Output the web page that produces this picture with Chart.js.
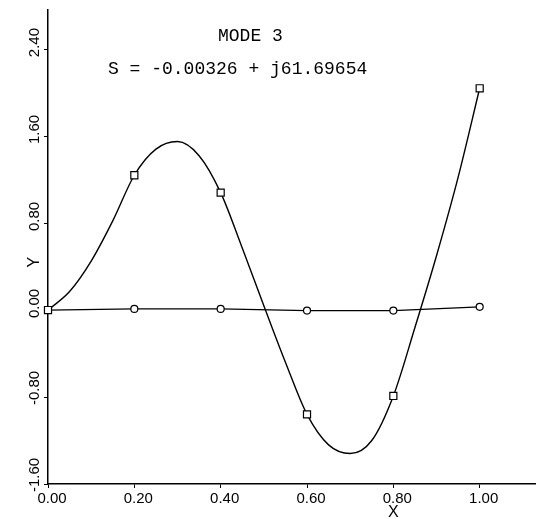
<!DOCTYPE html>
<html>
<head>
<meta charset="utf-8">
<script src="https://cdn.jsdelivr.net/npm/chart.js@4.4.1/dist/chart.umd.min.js"></script>
<style>
  body { margin: 0; background: #fff; }
  #wrap { width: 542px; height: 519px; }
</style>
</head>
<body>
<div id="wrap"><canvas id="grafico" width="542" height="519"></canvas></div>
<script>
// pontos nodais (quadrados = modo, circulos = parte imaginaria)
const xNos = [0, 0.2, 0.4, 0.6, 0.8, 1.0];
const yQuadrados = [0, 1.24, 1.08, -0.96, -0.79, 2.04];
const yCirculos = [0, 0.01, 0.01, -0.005, -0.005, 0.03];

// curva continua
const xCurva = [0, 0.05, 0.1, 0.15, 0.2, 0.25, 0.3, 0.35, 0.4, 0.45, 0.5,
                0.55, 0.6, 0.65, 0.7, 0.75, 0.8, 0.85, 0.9, 0.95, 1.0];
const yCurva = [0, 0.17, 0.45, 0.82, 1.24, 1.48, 1.55, 1.42, 1.08, 0.57, 0.04,
                -0.48, -0.96, -1.24, -1.32, -1.2, -0.79, -0.16, 0.5, 1.22, 2.04];

const xTicks = [0, 0.2, 0.4, 0.6, 0.8, 1.0];
const xTickLabels = ['0.00', '0.20', '0.40', '0.60', '0.80', '1.00'];
const yTicks = [-1.6, -0.8, 0, 0.8, 1.6, 2.4];
const yTickLabels = ['-1.60', '-0.80', '0.00', '0.80', '1.60', '2.40'];

const titulo = 'MODE 3';
const subtitulo = 'S = -0.00326 + j61.69654';

const textos = {
  id: 'textos',
  afterDraw(chart) {
    const ctx = chart.ctx;
    const sx = chart.scales.x;
    const sy = chart.scales.y;
    ctx.save();
    ctx.fillStyle = '#000';

    // rotulos do eixo Y, girados (comecam logo abaixo do tick)
    ctx.font = '15px "Liberation Sans", Arial, sans-serif';
    ctx.textAlign = 'left';
    ctx.textBaseline = 'middle';
    yTicks.forEach((v, i) => {
      ctx.save();
      ctx.translate(35, sy.getPixelForValue(v) + 8);
      ctx.rotate(-Math.PI / 2);
      ctx.fillText(yTickLabels[i], 0, 0);
      ctx.restore();
    });

    // titulo dos eixos
    ctx.textAlign = 'center';
    ctx.font = '16px "Liberation Sans", Arial, sans-serif';
    ctx.save();
    ctx.translate(35, sy.getPixelForValue(0.44));
    ctx.rotate(-Math.PI / 2);
    ctx.fillText('Y', 0, 0);
    ctx.restore();
    ctx.fillText('X', sx.getPixelForValue(0.8), 513);

    // titulo dentro do grafico
    ctx.font = '18px "Liberation Mono", monospace';
    ctx.textAlign = 'left';
    ctx.fillText(titulo, 218, 36);
    ctx.fillText(subtitulo, 108, 69);
    ctx.restore();
  }
};

const ctx = document.getElementById('grafico').getContext('2d');

const grafico = new Chart(ctx, {
  type: 'line',
  data: {
    datasets: [{
      label: 'nos',
      data: xNos.map((x, i) => ({ x: x, y: yQuadrados[i] })),
      showLine: false,
      pointStyle: 'rect',
      pointRadius: 5,
      pointBackgroundColor: '#fff',
      pointBorderColor: '#000',
      pointBorderWidth: 1.2,
      clip: false
    }, {
      label: 'imag',
      data: xNos.map((x, i) => ({ x: x, y: yCirculos[i] })),
      borderColor: '#000',
      borderWidth: 1.3,
      tension: 0,
      pointStyle: 'circle',
      pointRadius: 3.5,
      pointBackgroundColor: '#fff',
      pointBorderColor: '#000',
      pointBorderWidth: 1.2,
      clip: false
    }, {
      label: 'curva',
      data: xCurva.map((x, i) => ({ x: x, y: yCurva[i] })),
      borderColor: '#000',
      borderWidth: 1.4,
      cubicInterpolationMode: 'monotone',
      pointRadius: 0,
      clip: false
    }]
  },
  options: {
    responsive: false,
    animation: false,
    events: [],
    layout: { padding: { top: 10, right: 0, left: 0, bottom: 0 } },
    plugins: { legend: { display: false }, tooltip: { enabled: false } },
    scales: {
      x: {
        type: 'linear',
        min: 0,
        max: 1.13,
        afterBuildTicks: s => { s.ticks = xTicks.map(v => ({ value: v })); },
        afterFit: s => { s.height = 35; },
        border: { color: '#000', width: 1.5 },
        grid: { drawOnChartArea: false, drawTicks: true, tickLength: 4, color: '#000' },
        ticks: {
          color: '#000',
          padding: 2,
          maxRotation: 0,
          labelOffset: 4,
          font: { family: '"Liberation Sans", Arial, sans-serif', size: 15 },
          callback: (v, i) => xTickLabels[i]
        }
      },
      y: {
        type: 'linear',
        min: -1.6,
        max: 2.76,
        afterBuildTicks: s => { s.ticks = yTicks.map(v => ({ value: v })); },
        afterFit: s => { s.width = 48; },
        border: { color: '#000', width: 1.5 },
        grid: { drawOnChartArea: false, drawTicks: true, tickLength: 4, color: '#000' },
        ticks: { display: false }
      }
    }
  },
  plugins: [textos]
});
</script>
</body>
</html>
